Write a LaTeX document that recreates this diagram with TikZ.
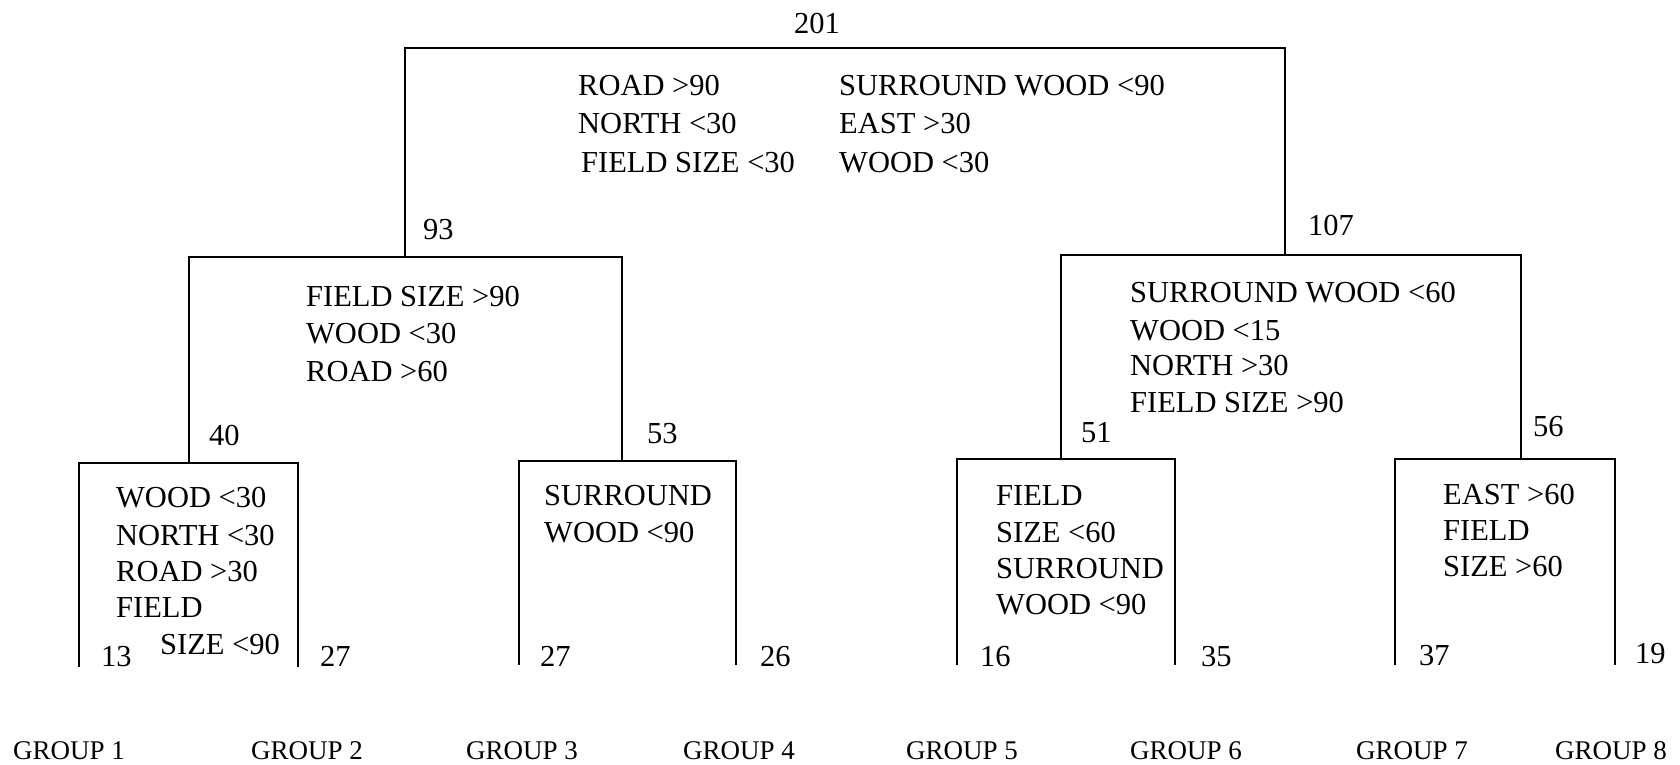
\documentclass[tikz,border=0pt]{standalone}
\usepackage{fontspec}
\setmainfont{Liberation Serif}
\begin{document}
\begin{tikzpicture}[x=1pt,y=-1pt,
  line/.style={line width=2.8pt,line cap=rect},
  txt/.style={anchor=west,inner sep=0pt,font=\fontsize{30.5}{30.5}\selectfont,text height=20pt,text depth=0pt},
  num/.style={txt},
  grp/.style={anchor=center,inner sep=0pt,font=\fontsize{27}{27}\selectfont,text height=19pt,text depth=0pt}]
\useasboundingbox (0,0) rectangle (1680,765);
% root split
\coordinate (rL) at (405,48); \coordinate (rR) at (1285,48);
\coordinate (aL) at (405,257); \coordinate (bR) at (1285,255);
% level 2 left
\coordinate (lL) at (189,257); \coordinate (lR) at (622,257);
\coordinate (lLd) at (189,463); \coordinate (lRd) at (622,461);
% level 2 right
\coordinate (mL) at (1061,255); \coordinate (mR) at (1521,255);
\coordinate (mLd) at (1061,459); \coordinate (mRd) at (1521,459);
% leaf boxes
\coordinate (b1a) at (79,666); \coordinate (b1b) at (79,463); \coordinate (b1c) at (298,463); \coordinate (b1d) at (298,666);
\coordinate (b2a) at (519,664); \coordinate (b2b) at (519,461); \coordinate (b2c) at (736,461); \coordinate (b2d) at (736,664);
\coordinate (b3a) at (957,664); \coordinate (b3b) at (957,459); \coordinate (b3c) at (1175,459); \coordinate (b3d) at (1175,664);
\coordinate (b4a) at (1395,664); \coordinate (b4b) at (1395,459); \coordinate (b4c) at (1615,459); \coordinate (b4d) at (1615,664);

\draw[line] (aL) -- (rL) -- (rR) -- (bR);
\draw[line] (lLd) -- (lL) -- (lR) -- (lRd);
\draw[line] (mLd) -- (mL) -- (mR) -- (mRd);
\draw[line] (b1a) -- (b1b) -- (b1c) -- (b1d);
\draw[line] (b2a) -- (b2b) -- (b2c) -- (b2d);
\draw[line] (b3a) -- (b3b) -- (b3c) -- (b3d);
\draw[line] (b4a) -- (b4b) -- (b4c) -- (b4d);

% counts
\node[num,anchor=center] (n201) at (817,24) {201};
\node[num] (n93) at (423,229) {93};
\node[num] (n107) at (1308,225) {107};
\node[num] (n40) at (209,435) {40};
\node[num] (n53) at (647,433) {53};
\node[num] (n51) at (1081,432) {51};
\node[num] (n56) at (1533,426) {56};
\node[num] (n13) at (101,656) {13};
\node[num] (n27a) at (320,656) {27};
\node[num] (n27b) at (540,656) {27};
\node[num] (n26) at (760,656) {26};
\node[num] (n16) at (980,656) {16};
\node[num] (n35) at (1201,656) {35};
\node[num] (n37) at (1419,655) {37};
\node[num] (n19) at (1635,653) {19};

% root rules
\node[txt] (r1) at (578,86) {ROAD >90};
\node[txt] (r2) at (578,124) {NORTH <30};
\node[txt] (r3) at (581,162) {FIELD SIZE <30};
\node[txt] (r4) at (839,86) {SURROUND WOOD <90};
\node[txt] (r5) at (839,124) {EAST >30};
\node[txt] (r6) at (839,162) {WOOD <30};
% left level 2
\node[txt] (l1) at (306,296) {FIELD SIZE >90};
\node[txt] (l2) at (306,333) {WOOD <30};
\node[txt] (l3) at (306,371) {ROAD >60};
% right level 2
\node[txt] (m1) at (1130,292) {SURROUND WOOD <60};
\node[txt] (m2) at (1130,330) {WOOD <15};
\node[txt] (m3) at (1130,365) {NORTH >30};
\node[txt] (m4) at (1130,402) {FIELD SIZE >90};
% box 1
\node[txt] (c1) at (116,497) {WOOD <30};
\node[txt] (c2) at (116,535) {NORTH <30};
\node[txt] (c3) at (116,571) {ROAD >30};
\node[txt] (c4) at (116,607) {FIELD};
\node[txt] (c5) at (160,644) {SIZE <90};
% box 2
\node[txt] (d1) at (544,495) {SURROUND};
\node[txt] (d2) at (544,532) {WOOD <90};
% box 3
\node[txt] (e1) at (996,495) {FIELD};
\node[txt] (e2) at (996,532) {SIZE <60};
\node[txt] (e3) at (996,568) {SURROUND};
\node[txt] (e4) at (996,604) {WOOD <90};
% box 4
\node[txt] (f1) at (1443,494) {EAST >60};
\node[txt] (f2) at (1443,530) {FIELD};
\node[txt] (f3) at (1443,566) {SIZE >60};

% groups
\node[grp] (g1) at (69,750) {GROUP 1};
\node[grp] (g2) at (307,750) {GROUP 2};
\node[grp] (g3) at (522,750) {GROUP 3};
\node[grp] (g4) at (739,750) {GROUP 4};
\node[grp] (g5) at (962,750) {GROUP 5};
\node[grp] (g6) at (1186,750) {GROUP 6};
\node[grp] (g7) at (1412,750) {GROUP 7};
\node[grp] (g8) at (1611,750) {GROUP 8};
\end{tikzpicture}
\end{document}
